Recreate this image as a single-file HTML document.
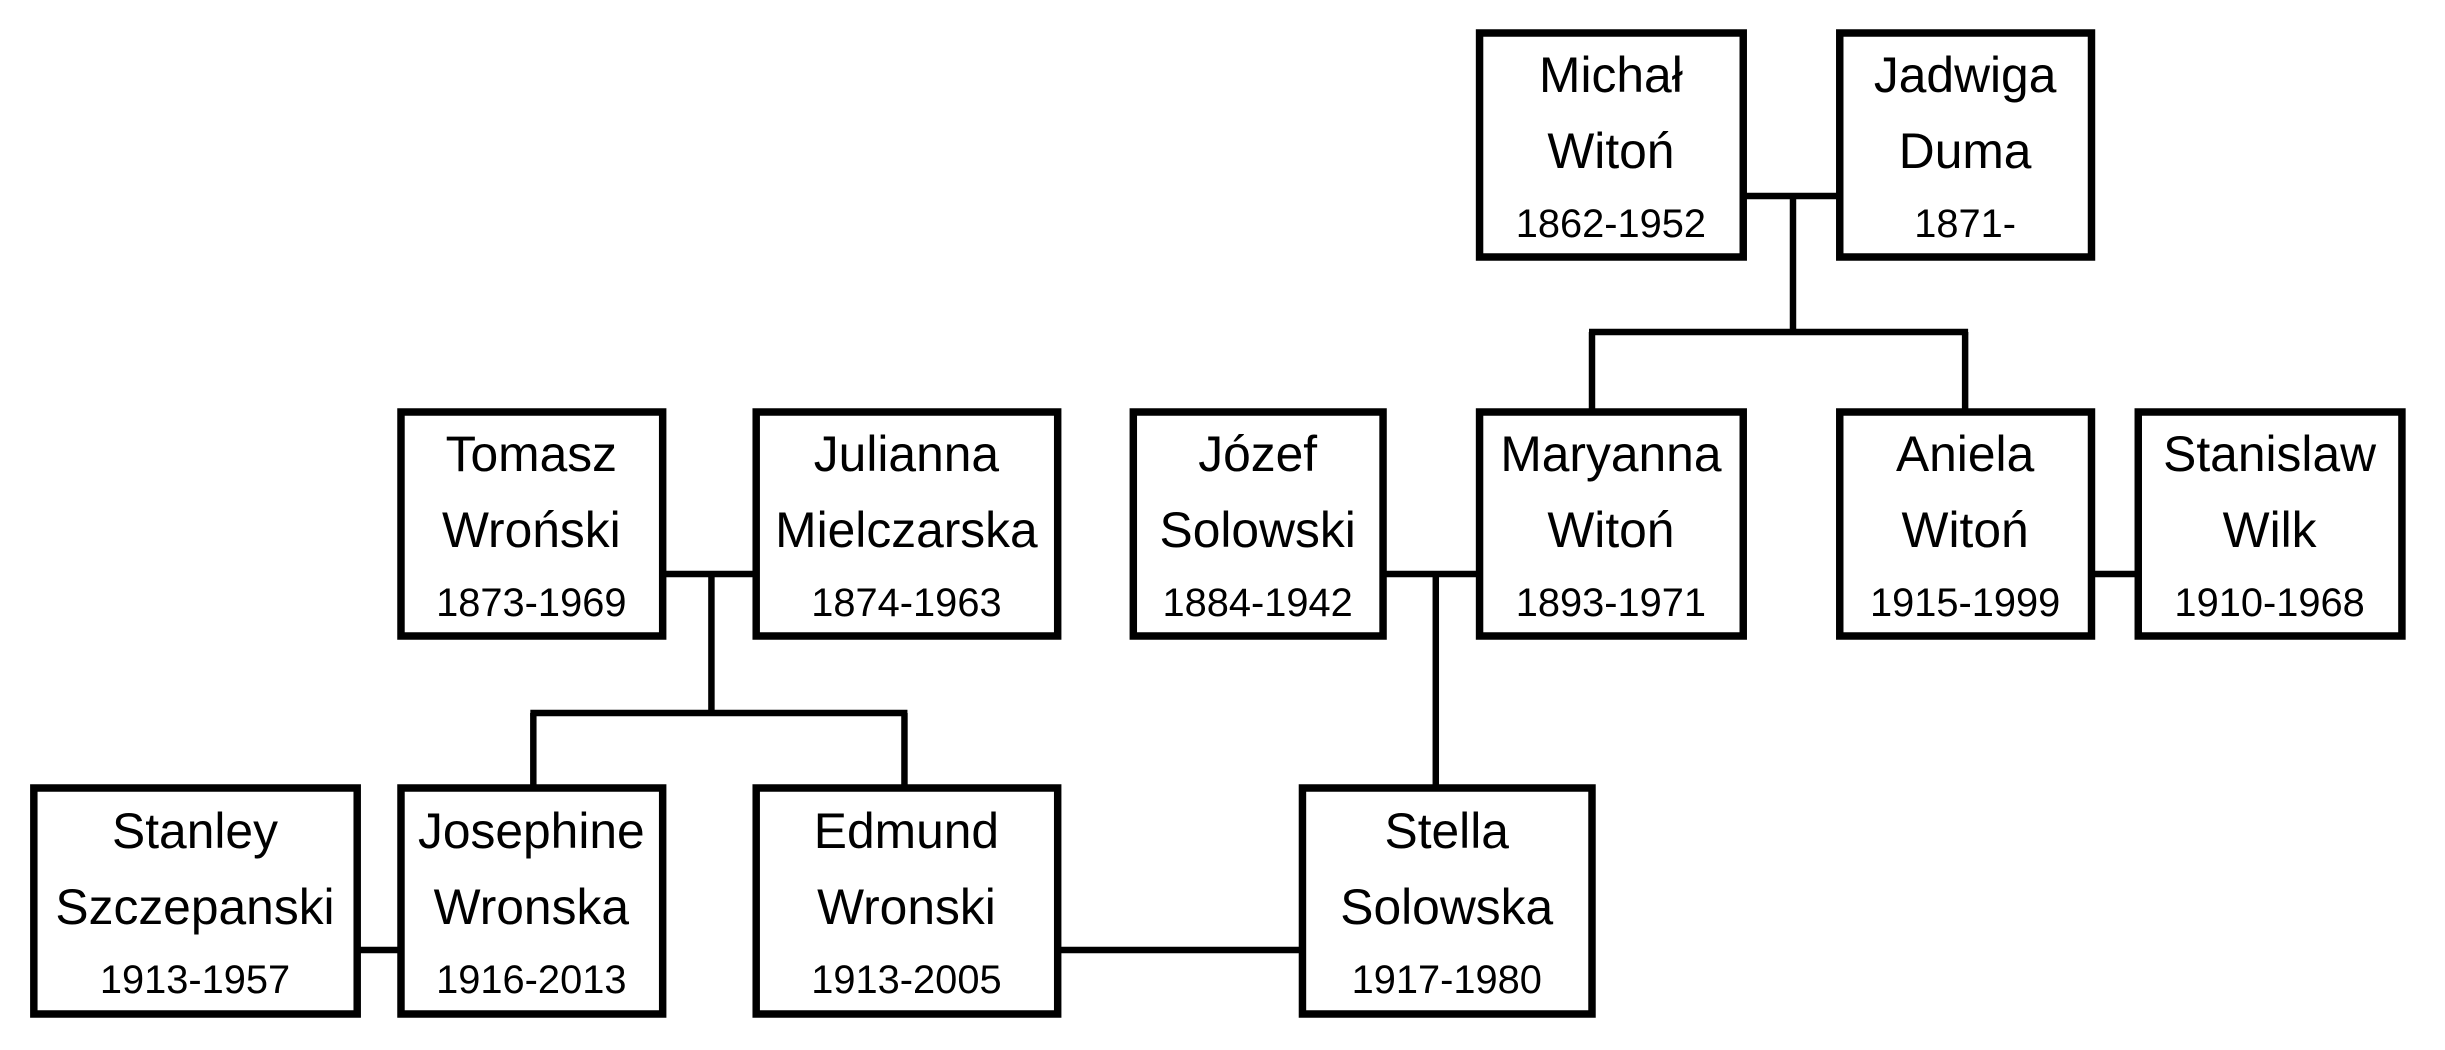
<!DOCTYPE html>
<html><head><meta charset="utf-8"><style>
html,body{margin:0;padding:0;background:#fff;}
svg{display:block}
text{font-family:"Liberation Sans",sans-serif;fill:#000;text-anchor:middle;dominant-baseline:central}
.n{font-size:50px}.d{font-size:40px}
rect{fill:#fff;stroke:#000;stroke-width:7.5}
line{stroke:#000;stroke-width:6.5}
</style></head><body>
<svg width="2445" height="1050" viewBox="0 0 2445 1050">
<g transform="scale(0.995,1)">
<line x1="666" y1="574" x2="760" y2="574"/>
<line x1="715" y1="574" x2="715" y2="713"/>
<line x1="533" y1="713" x2="912" y2="713"/>
<line x1="536" y1="713" x2="536" y2="790"/>
<line x1="909" y1="713" x2="909" y2="790"/>
<line x1="359" y1="950" x2="403" y2="950"/>
<line x1="1063" y1="950" x2="1309" y2="950"/>
<line x1="1390" y1="574" x2="1487" y2="574"/>
<line x1="1443" y1="574" x2="1443" y2="790"/>
<line x1="1752" y1="196" x2="1849" y2="196"/>
<line x1="1802" y1="196" x2="1802" y2="332"/>
<line x1="1597" y1="332" x2="1978" y2="332"/>
<line x1="1600" y1="332" x2="1600" y2="414"/>
<line x1="1975" y1="332" x2="1975" y2="414"/>
<line x1="2102" y1="574" x2="2149" y2="574"/>
<rect x="403" y="412" width="263" height="224"/>
<text class="n" x="534" y="454">Tomasz</text><text class="n" x="534" y="530">Wroński</text><text class="d" x="534" y="603">1873-1969</text>
<rect x="760" y="412" width="303" height="224"/>
<text class="n" x="911" y="454">Julianna</text><text class="n" x="911" y="530">Mielczarska</text><text class="d" x="911" y="603">1874-1963</text>
<rect x="1139" y="412" width="251" height="224"/>
<text class="n" x="1264" y="454">Józef</text><text class="n" x="1264" y="530">Solowski</text><text class="d" x="1264" y="603">1884-1942</text>
<rect x="1487" y="412" width="265" height="224"/>
<text class="n" x="1619" y="454">Maryanna</text><text class="n" x="1619" y="530">Witoń</text><text class="d" x="1619" y="603">1893-1971</text>
<rect x="1849" y="412" width="253" height="224"/>
<text class="n" x="1975" y="454">Aniela</text><text class="n" x="1975" y="530">Witoń</text><text class="d" x="1975" y="603">1915-1999</text>
<rect x="2149" y="412" width="265" height="224"/>
<text class="n" x="2281" y="454">Stanislaw</text><text class="n" x="2281" y="530">Wilk</text><text class="d" x="2281" y="603">1910-1968</text>
<rect x="1487" y="33" width="265" height="224"/>
<text class="n" x="1619" y="75">Michał</text><text class="n" x="1619" y="151">Witoń</text><text class="d" x="1619" y="224">1862-1952</text>
<rect x="1849" y="33" width="253" height="224"/>
<text class="n" x="1975" y="75">Jadwiga</text><text class="n" x="1975" y="151">Duma</text><text class="d" x="1975" y="224">1871-</text>
<rect x="34" y="788" width="325" height="226"/>
<text class="n" x="196" y="831">Stanley</text><text class="n" x="196" y="907">Szczepanski</text><text class="d" x="196" y="980">1913-1957</text>
<rect x="403" y="788" width="263" height="226"/>
<text class="n" x="534" y="831">Josephine</text><text class="n" x="534" y="907">Wronska</text><text class="d" x="534" y="980">1916-2013</text>
<rect x="760" y="788" width="303" height="226"/>
<text class="n" x="911" y="831">Edmund</text><text class="n" x="911" y="907">Wronski</text><text class="d" x="911" y="980">1913-2005</text>
<rect x="1309" y="788" width="291" height="226"/>
<text class="n" x="1454" y="831">Stella</text><text class="n" x="1454" y="907">Solowska</text><text class="d" x="1454" y="980">1917-1980</text>
</g>
</svg>
</body></html>
